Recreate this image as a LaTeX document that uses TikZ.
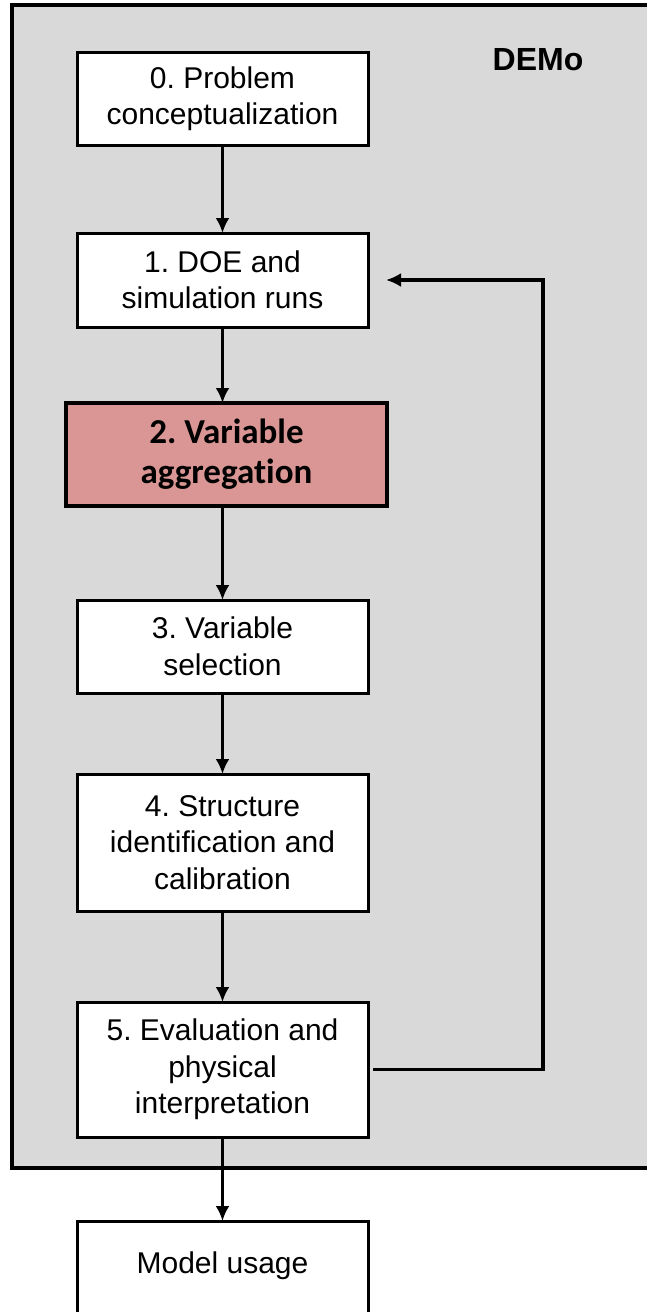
\documentclass[tikz,border=0pt]{standalone}
\usepackage{fontspec}
\setmainfont{Liberation Sans}
\newfontfamily\calibri[Ligatures=CommonOff]{Carlito}
\usetikzlibrary{arrows.meta,positioning}

\definecolor{demogrey}{HTML}{D9D9D9}
\definecolor{keyred}{HTML}{DA9694}

\begin{document}
\frenchspacing
\begin{tikzpicture}[
  x=1pt, y=-1pt,
  stage/.style={draw, fill=white, line width=3pt, rectangle, minimum width=291pt,
    inner sep=0pt, outer sep=0pt, align=center, font=\fontsize{30}{36.5}\selectfont},
  keystage/.style={stage, fill=keyred, line width=3.8pt, minimum width=321pt,
    font=\calibri\bfseries\fontsize{35}{40}\selectfont},
  flow/.style={->, line width=3.8pt},
  >={Latex[length=15pt,width=14pt]}
]
\useasboundingbox (0,0) rectangle (646,1312);

% --- DEMo frame ---
\draw[fill=demogrey, line width=4pt] (12,5) rectangle (680,1168);
\node[font=\bfseries\fontsize{32}{38}\selectfont] (demo) at (538,60) {DEMo};

% --- Nodes ---
\node[stage, minimum height=93pt] (0) at (222.5,98.5) {0. Problem\\conceptualization};
\node[stage, minimum height=94pt] (1) [below=88pt of 0] {1. DOE and\\simulation runs};
\node[keystage, minimum height=103pt] (2) [below=76pt of 1, xshift=4pt] {2. Variable\\aggregation};
\node[stage, minimum height=93pt] (3) [below=94pt of 2, xshift=-4pt] {3. Variable\\selection};
\node[stage, minimum height=137pt] (4) [below=81pt of 3] {4. Structure\\identification and\\calibration};
\node[stage, minimum height=135pt] (5) [below=91pt of 4] {5. Evaluation and\\physical\\interpretation};
\node[stage, text height=52pt, text depth=70pt] (usage) [below=84pt of 5] {Model usage};

% --- Main flow ---
\draw[flow] (0) -- (1);
\draw[flow] (1.south) -- (1.south |- 2.north);
\draw[flow] (3.north |- 2.south) -- (3.north);
\draw[flow] (3) -- (4);
\draw[flow] (4) -- (5);
\draw[flow] (5) -- (usage);

% --- Feedback loop ---
\draw[flow] ([xshift=5pt]5.east) -- ++(170,0) |- ([xshift=18pt]1.east);

\end{tikzpicture}
\end{document}
